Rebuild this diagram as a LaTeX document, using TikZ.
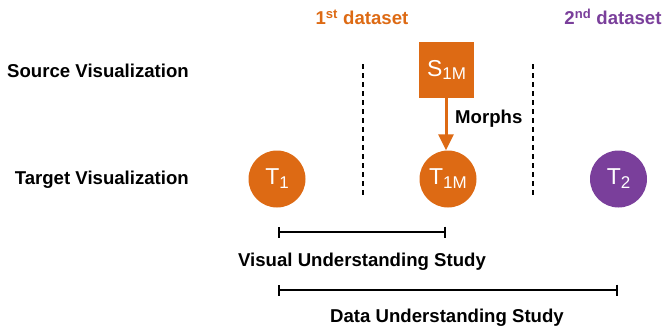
\documentclass[tikz,border=0pt]{standalone}
\usepackage{fontspec}
\setmainfont{Liberation Sans}
\usetikzlibrary{arrows.meta}
\definecolor{morange}{RGB}{221,106,20}
\definecolor{mpurple}{RGB}{122,63,155}
\newcommand\subtx[1]{\raisebox{-0.17em}{\fontsize{17}{17}\selectfont #1}}
\begin{document}
\begin{tikzpicture}[x=1pt,y=-1pt,
  lbl/.style={font=\bfseries\fontsize{18.6}{18.6}\selectfont, inner sep=0pt},
  circ/.style={circle, fill=#1, minimum size=57pt, inner sep=0pt, text=white, font=\fontsize{23}{23}\selectfont},
  sep/.style={line width=2.2pt, dash pattern=on 5pt off 4pt},
  span/.style={line width=2pt, {Bar[width=11pt,line width=2pt]}-{Bar[width=11pt,line width=2pt]}}]
\useasboundingbox (0,0) rectangle (666,332);
\node[lbl, text=morange] (d1) at (362,17) {1\textsuperscript{st} dataset};
\node[lbl, text=mpurple] (d2) at (613,17) {2\textsuperscript{nd} dataset};
\node[lbl, anchor=east] (src) at (189,71) {Source Visualization};
\node[lbl, anchor=east] (tgt) at (189,180) {Target Visualization};
\node[fill=morange, minimum width=55pt, minimum height=56pt, inner sep=0pt, text=white, font=\fontsize{23}{23}\selectfont] (s1m) at (446.5,70) {S\subtx{1M}};
\node[circ=morange] (t1) at (277,179) {T\subtx{1}};
\node[circ=morange] (t1m) at (448,179) {T\subtx{1M}};
\node[circ=mpurple] (t2) at (618.5,179) {T\subtx{2}};
\coordinate (l1a) at (363,64); \coordinate (l1b) at (363,196);
\coordinate (l2a) at (533,64); \coordinate (l2b) at (533,196);
\draw[sep] (l1a) -- (l1b);
\draw[sep] (l2a) -- (l2b);
\draw[morange, line width=3pt, -{Triangle[length=16pt,width=15pt]}] (s1m.south -| 446,0) -- (t1m.north -| 446,0);
\node[lbl, anchor=west] (morph) at (455,119) {Morphs};
\coordinate (b1a) at (278,232); \coordinate (b1b) at (446,232);
\draw[span] (b1a) -- (b1b);
\node[lbl] (vus) at (362,262) {Visual Understanding Study};
\coordinate (b2a) at (278,290); \coordinate (b2b) at (618,290);
\draw[span] (b2a) -- (b2b);
\node[lbl] (dus) at (447,318) {Data Understanding Study};
\end{tikzpicture}
\end{document}
